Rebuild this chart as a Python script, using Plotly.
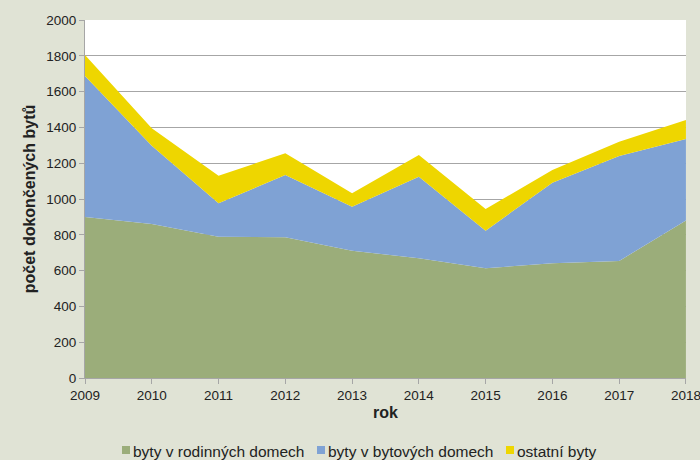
import plotly.graph_objects as go

# Dokončené byty podle typu stavby
years = [2009, 2010, 2011, 2012, 2013, 2014, 2015, 2016, 2017, 2018]
rodinne_domy = [899, 860, 789, 786, 711, 669, 613, 641, 654, 880]
bytove_domy = [788, 438, 187, 348, 246, 456, 210, 450, 586, 455]
ostatni = [117, 97, 154, 121, 75, 121, 121, 71, 80, 106]

series_names = ["byty v rodinných domech", "byty v bytových domech", "ostatní byty"]
series_values = [rodinne_domy, bytove_domy, ostatni]
series_colors = ["#9BAD7A", "#7FA2D4", "#EED600"]

fig = go.Figure()
for name, values, color in zip(series_names, series_values, series_colors):
    fig.add_trace(go.Scatter(
        x=years, y=values, name=name, mode="lines",
        stackgroup="one", line=dict(width=0, color=color),
        fillcolor=color, showlegend=False,
    ))

# plot area geometry in pixels
W, H = 700, 460
L, R, T, B = 85, 14, 20, 82
plot_w = W - L - R
plot_h = H - T - B


def px_x(px):
    return (px - L) / plot_w


def px_y(py):
    return (H - B - py) / plot_h


# compact legend row below the axis title: small square + label
legend_y = 450
square_left = [122, 317, 506]
sq = 8
shapes = []
annotations = []
for name, color, x0 in zip(series_names, series_colors, square_left):
    shapes.append(dict(
        type="rect", xref="paper", yref="paper",
        x0=px_x(x0), x1=px_x(x0 + sq),
        y0=px_y(legend_y + sq / 2), y1=px_y(legend_y - sq / 2),
        fillcolor=color, line=dict(width=0),
    ))
    annotations.append(dict(
        text=name, xref="paper", yref="paper",
        x=px_x(x0 + sq + 1), y=px_y(legend_y + 1),
        xanchor="left", yanchor="middle", showarrow=False,
        font=dict(size=15.5, color="#222222"),
    ))

font_family = "Liberation Sans, Arial, sans-serif"
fig.update_layout(
    width=W, height=H,
    margin=dict(l=L, r=R, t=T, b=B, autoexpand=False),
    paper_bgcolor="#E0E3D5",
    plot_bgcolor="#FFFFFF",
    font=dict(family=font_family, size=13.5, color="#222222"),
    showlegend=False,
    shapes=shapes,
    annotations=annotations,
    xaxis=dict(
        range=[2009, 2018.001], tickmode="array", tickvals=years,
        ticktext=[str(y) for y in years], ticklabeloverflow="allow",
        showgrid=False, showline=True, linecolor="#A6A6A6", linewidth=1,
        ticks="outside", ticklen=5, tickcolor="#A6A6A6",
        title=dict(text="<b>rok</b>", font=dict(size=16), standoff=4),
    ),
    yaxis=dict(
        range=[0, 2000], dtick=200, showgrid=True, gridcolor="#A6A6A6",
        gridwidth=1, showline=True, linecolor="#A6A6A6", linewidth=1,
        ticks="outside", ticklen=5, tickcolor="#A6A6A6",
        zeroline=False,
        title=dict(text="<b>počet dokončených bytů</b>", font=dict(size=16), standoff=6),
    ),
)

fig.write_html("out.html")
